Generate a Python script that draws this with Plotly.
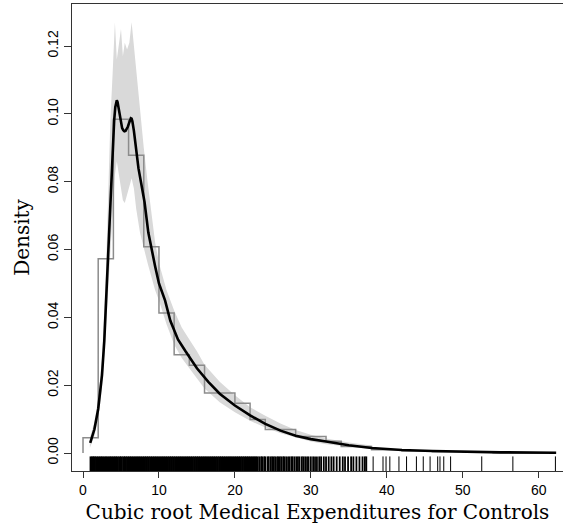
import plotly.graph_objects as go

# Density curve (estimate)
curve_x = [0.95, 1.5, 2.0, 2.5, 2.8, 3.1, 3.34, 3.6, 3.8, 3.95, 4.1, 4.25, 4.35, 4.45, 4.55,
           4.7, 4.85, 5.0, 5.15, 5.3, 5.45, 5.6, 5.75, 5.9, 6.05, 6.2, 6.3, 6.4, 6.5, 6.7, 7.0,
           7.3, 7.7, 8.1, 8.6, 9.0, 9.5, 10.0, 10.8, 11.5, 12.5, 13.5, 15.0, 16.5, 18.0, 20.0,
           22.0, 24.0, 26.0, 28.0, 30.0, 32.0, 35.0, 38.0, 42.0, 46.0, 50.0, 55.0, 62.3]
curve_y = [0.003, 0.007, 0.013, 0.023, 0.033, 0.048, 0.063, 0.076, 0.085, 0.092, 0.098, 0.102,
           0.1035, 0.104, 0.1035, 0.1015, 0.099, 0.097, 0.0958, 0.0952, 0.0949, 0.0950, 0.0955,
           0.0962, 0.0972, 0.0982, 0.0987, 0.0986, 0.0978, 0.095, 0.089, 0.084, 0.079, 0.074,
           0.065, 0.060, 0.055, 0.050, 0.045, 0.039, 0.0335, 0.030, 0.025, 0.021, 0.0175, 0.0140,
           0.0111, 0.0086, 0.0066, 0.0051, 0.0041, 0.0034, 0.0023, 0.0015, 0.0009, 0.0006, 0.0004,
           0.0002, 0.0001]

# Confidence band
band_x = [0.9, 1.5, 2.0, 2.5, 3.0, 3.3, 3.6, 3.9, 4.2, 4.45, 4.7, 5.0, 5.25, 5.5, 5.8, 6.1, 6.4,
          6.7, 7.0, 7.5, 8.0, 8.5, 9.0, 9.5, 10.0, 11.0, 12.0, 13.0, 14.0, 15.0, 16.0, 18.0, 20.0,
          22.0, 24.0, 26.0, 28.0, 30.0, 32.0, 35.0, 38.0]
band_lo = [0.0015, 0.005, 0.010, 0.019, 0.036, 0.048, 0.060, 0.072, 0.082, 0.086, 0.082, 0.077,
           0.0745, 0.0737, 0.076, 0.079, 0.081, 0.078, 0.072, 0.065, 0.060, 0.056, 0.052, 0.048,
           0.045, 0.038, 0.032, 0.028, 0.025, 0.022, 0.019, 0.0150, 0.0120, 0.0095, 0.0075,
           0.0058, 0.0045, 0.0034, 0.0026, 0.0018, 0.0012]
band_hi = [0.0045, 0.009, 0.016, 0.028, 0.052, 0.075, 0.098, 0.112, 0.127, 0.116, 0.120, 0.125,
           0.117, 0.121, 0.119, 0.121, 0.127, 0.120, 0.112, 0.100, 0.090, 0.080, 0.070, 0.062,
           0.056, 0.048, 0.042, 0.037, 0.0335, 0.030, 0.026, 0.0210, 0.0170, 0.0135, 0.0110,
           0.0087, 0.0068, 0.0054, 0.0043, 0.0031, 0.0022]

# Histogram (step outline)
hist_right_edges = [2, 4, 6, 8, 10, 12, 14, 16, 20, 22, 24, 28, 32, 34, 38, 42, 46, 50, 54, 58, 62]
hist_heights = [0.0045, 0.0573, 0.0984, 0.0878, 0.0608, 0.0413, 0.0290, 0.0259, 0.0177, 0.0147,
                0.0099, 0.0069, 0.0049, 0.0035, 0.0019, 0.0010, 0.0006, 0.0004, 0.0002, 0.0001,
                0.0001]

# Rug (observations)
rug_dense = [1.05, 1.3, 1.52, 1.8, 2.08, 2.35, 2.6, 2.9, 3.15, 3.45, 3.7, 3.98, 4.25, 4.5, 4.8,
             5.05, 5.35, 5.6, 5.88, 6.15, 6.42, 6.7, 6.98, 7.25, 7.52, 7.8, 8.08, 8.35, 8.62, 8.9,
             9.18, 9.45, 9.72, 10.0, 10.28, 10.55, 10.82, 11.1, 11.38, 11.65, 11.92, 12.2, 12.48,
             12.75, 13.02, 13.3, 13.58, 13.85, 14.12, 14.4, 14.68, 14.95, 15.22, 15.5, 15.78,
             16.05, 16.32, 16.6, 16.88, 17.15, 17.42, 17.7, 17.98, 18.25, 18.52, 18.8, 19.08,
             19.35, 19.62, 19.9, 20.18, 20.45, 20.72, 21.0, 21.28, 21.55, 21.82, 22.1, 22.38,
             22.65, 22.92]
rug_mid = [23.2, 23.45, 23.6, 23.85, 24.0, 24.3, 24.45, 24.7, 24.9, 25.1, 25.3, 25.55, 25.7,
           25.9, 26.1, 26.35, 26.5, 26.75, 27.0, 27.2, 27.45, 27.6, 27.85, 28.1, 28.3, 28.5,
           28.8, 29.0, 29.25, 29.5, 29.7, 30.0, 30.3, 30.55, 30.8, 31.1, 31.35, 31.7, 32.0,
           32.35, 32.7, 33.0, 33.4, 33.8, 34.2, 34.5, 34.9, 35.3, 35.6, 36.0, 36.4, 36.8, 37.1,
           37.3]
rug_tail = [38.2, 39.5, 39.9, 40.4, 41.6, 42.6, 43.9, 44.8, 45.7, 46.7, 47.0, 47.5, 48.4,
            52.5, 56.6, 62.2]

x_ticks = [0, 10, 20, 30, 40, 50, 60]
y_ticks = [0.00, 0.02, 0.04, 0.06, 0.08, 0.10, 0.12]
x_title = "Cubic root Medical Expenditures for Controls"
y_title = "Density"

RUG_LO, RUG_HI = -0.0053, -0.0010


def rug_xy(vals):
    xs, ys = [], []
    for v in vals:
        xs += [v, v, None]
        ys += [RUG_LO, RUG_HI, None]
    return xs, ys


fig = go.Figure()
fig.add_trace(go.Scatter(x=band_x, y=band_lo, mode="lines", line=dict(width=0, color="#d9d9d9"),
                         showlegend=False, hoverinfo="skip"))
fig.add_trace(go.Scatter(x=band_x, y=band_hi, mode="lines", line=dict(width=0, color="#d9d9d9"),
                         fill="tonexty", fillcolor="#d9d9d9", showlegend=False, hoverinfo="skip"))
fig.add_trace(go.Scatter(x=[0] + hist_right_edges, y=[0] + hist_heights, mode="lines",
                         line=dict(color="#8c8c8c", width=1.5, shape="vh"), showlegend=False))
fig.add_trace(go.Scatter(x=curve_x, y=curve_y, mode="lines", line=dict(color="black", width=2.6),
                         showlegend=False))
for vals, w in ((rug_dense, 2.8), (rug_mid, 1.8), (rug_tail, 1.0)):
    rx, ry = rug_xy(vals)
    fig.add_trace(go.Scatter(x=rx, y=ry, mode="lines", line=dict(color="black", width=w),
                             showlegend=False, hoverinfo="skip"))

fig.update_layout(
    width=563, height=527,
    margin=dict(l=72, r=0, t=4, b=56, autoexpand=False),
    plot_bgcolor="white", paper_bgcolor="white",
    font=dict(family="Liberation Sans, Arial, sans-serif", size=14, color="black"),
    xaxis=dict(range=[-1.45, 63.2], tickvals=x_ticks, ticktext=[str(v) for v in x_ticks],
               showline=True, linecolor="#333333", linewidth=1, mirror=True, automargin=False,
               ticks="outside", ticklen=6, tickcolor="#333333", showgrid=False, zeroline=False,
               title=dict(text=x_title, font=dict(family="DejaVu Serif", size=20), standoff=8)),
    yaxis=dict(range=[-0.0053, 0.1324], tickvals=y_ticks, ticktext=[f"{v:.2f}" for v in y_ticks],
               tickangle=-90, showline=True, linecolor="#333333", linewidth=1, automargin=False,
               ticks="outside", ticklen=7, tickcolor="#333333", showgrid=False, zeroline=False,
               title=dict(text=y_title, font=dict(family="DejaVu Serif", size=20), standoff=10)),
)

fig.write_html(
    "out.html", config={"displayModeBar": False, "staticPlot": True},
    post_script=("document.body.style.margin='0px';"
                 "document.body.style.overflow='hidden';"
                 "document.documentElement.style.overflow='hidden';"))
